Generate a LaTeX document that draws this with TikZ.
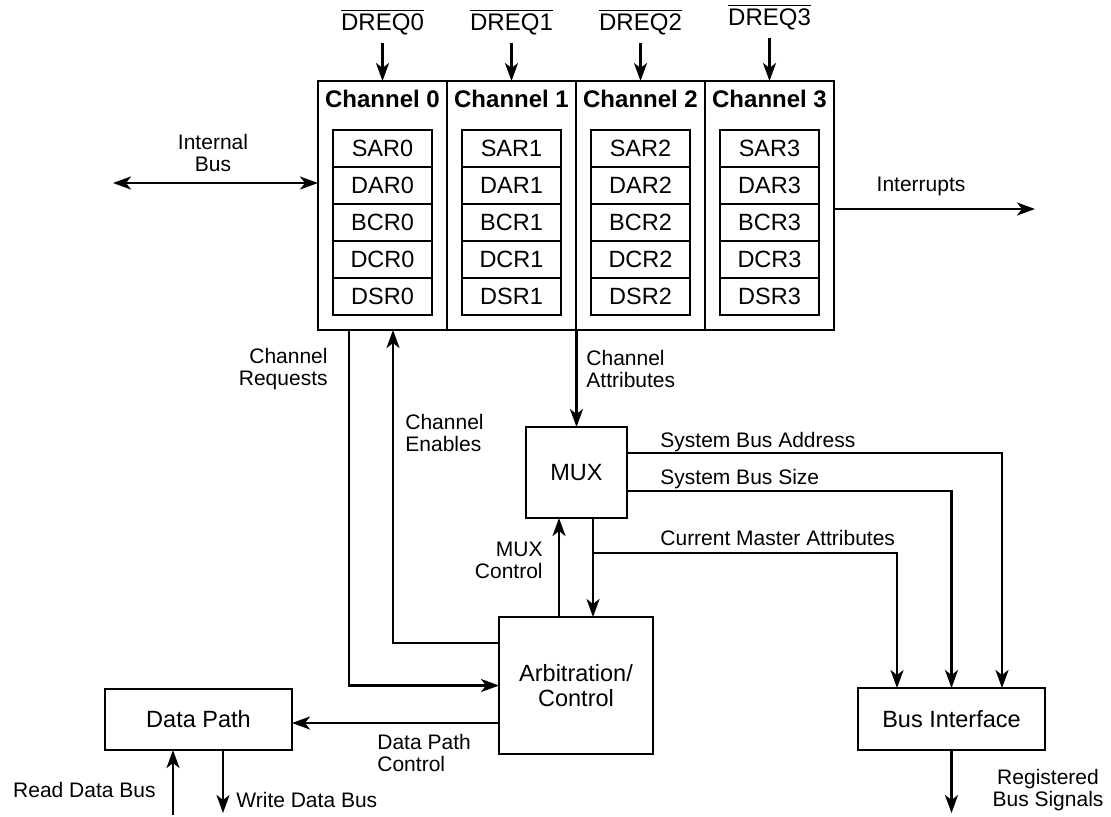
\documentclass[tikz,border=0pt]{standalone}
\usepackage{fontspec}
\setmainfont{Liberation Sans}
\usetikzlibrary{arrows.meta,positioning}
\tikzset{
    chanbox/.style={draw, line width=1.3pt, outer sep=0pt, minimum width=64.5pt, minimum height=124.5pt},
    chanhead/.style={inner sep=0pt, font=\fontsize{12}{14}\selectfont\bfseries},
    regbox/.style={draw, line width=1.3pt, outer sep=0pt, inner sep=0pt,
        minimum width=49.5pt, minimum height=18.5pt, font=\fontsize{11.75}{12.5}\selectfont},
    blockbox/.style={draw, line width=1.3pt, outer sep=0pt, inner sep=0pt, align=center,
        font=\fontsize{11.75}{12.5}\selectfont},
    sigtext/.style={inner sep=0pt, font=\fontsize{10.5}{11}\selectfont},
    sigline/.style={line width=1.3pt},
    sigarrow/.style={sigline, -{Stealth[length=9pt, width=6.5pt, inset=2.5pt]}},
    sigboth/.style={sigline, {Stealth[length=9pt, width=6.5pt, inset=2.5pt]}-{Stealth[length=9pt, width=6.5pt, inset=2.5pt]}}
}

\begin{document}
\begin{tikzpicture}[x=0.5pt, y=-0.5pt]
\useasboundingbox (0,0) rectangle (1111,816);

% DMA channels with their registers
\foreach \i in {0,...,3}{
    \node[chanbox] (ch\i) at ({382.5+129*\i},205.5) {};
    \node[chanhead] (head\i) at ({382.5+129*\i},99) {Channel \i};
    \node[regbox] (sar\i) at ({382.5+129*\i},148.5) {SAR\i};
    \node[regbox, below=0pt of sar\i] (dar\i) {DAR\i};
    \node[regbox, below=0pt of dar\i] (bcr\i) {BCR\i};
    \node[regbox, below=0pt of bcr\i] (dcr\i) {DCR\i};
    \node[regbox, below=0pt of dcr\i] (dsr\i) {DSR\i};
}
\foreach \i/\y in {0/22,1/22,2/22,3/17}{
    \node[inner sep=4pt, font=\fontsize{12}{14}\selectfont] (dreq\i) at ({382.5+129*\i},\y) {$\overline{\hbox{DREQ\i}}$};
    \draw[sigarrow] (dreq\i) -- (dreq\i |- ch\i.north);
}

% blocks
\node[blockbox, minimum width=50.5pt, minimum height=45.5pt] (mux) at (576.5,472.5) {MUX};
\node[blockbox, minimum width=77pt, minimum height=68.5pt] (arb) at (576,685.5) {Arbitration/\\Control};
\node[blockbox, minimum width=93.5pt, minimum height=30.5pt] (dpath) at (198.5,719.5) {Data Path};
\node[blockbox, minimum width=93.5pt, minimum height=31pt] (bif) at (951.5,719) {Bus Interface};

% free ends
\coordinate (ibus) at (113,183);
\coordinate (intr) at (1035,209);
\coordinate (tap) at (593,553);
\coordinate (rdb) at (173,815);
\coordinate (wdb) at (223,813);
\coordinate (rbs) at (951.5,813);

% connections
\draw[sigboth] (ibus) -- (ibus -| ch0.west);
\draw[sigarrow] (intr -| ch3.east) -- (intr);
\draw[sigarrow] ([xshift=-16.75pt]ch0.south) |- (arb.west);
\draw[sigarrow] ([yshift=21.25pt]arb.west) -| ([xshift=5.25pt]ch0.south);
\draw[sigarrow] (mux.north |- ch1.south) -- (mux.north);
\draw[sigarrow] ([xshift=-8.5pt]arb.north) -- ([xshift=-8.5pt]arb.north |- mux.south);
\draw[sigarrow] ([xshift=8.5pt]arb.north |- mux.south) -- ([xshift=8.5pt]arb.north);
\draw[sigarrow] (tap) -| ([xshift=-27.25pt]bif.north);
\draw[sigarrow] ([yshift=9.75pt]mux.east) -| ([xshift=25.25pt]bif.north);
\draw[sigarrow] ([yshift=-9.25pt]mux.east) -| (bif.north);
\draw[sigarrow] ([yshift=-18.75pt]arb.west) -- ([yshift=-18.75pt]arb.west -| dpath.east);
\draw[sigarrow] (rdb) -- (rdb |- dpath.south);
\draw[sigarrow] (wdb |- dpath.south) -- (wdb);
\draw[sigarrow] (bif.south) -- (rbs);

% signal names
\node[sigtext, align=center] (ibuslbl) at (213,153) {Internal\\Bus};
\node[sigtext] (intrlbl) at (921,186) {Interrupts};
\node[sigtext, align=right, anchor=east] (reqlbl) at (328,369) {Channel\\Requests};
\node[sigtext, align=left, anchor=west] (enlbl) at (405,433) {Channel\\Enables};
\node[sigtext, align=left, anchor=west] (attrlbl) at (586,369) {Channel\\Attributes};
\node[sigtext, align=right, anchor=east] (muxlbl) at (543,560) {MUX\\Control};
\node[sigtext, anchor=west] (addrlbl) at (660,442) {System Bus Address};
\node[sigtext, anchor=west] (sizelbl) at (660,479) {System Bus Size};
\node[sigtext, anchor=west] (cmalbl) at (660,538) {Current Master Attributes};
\node[sigtext, align=left, anchor=west] (dpclbl) at (377,753) {Data Path\\Control};
\node[sigtext, anchor=east] (rdblbl) at (156,790) {Read Data Bus};
\node[sigtext, anchor=west] (wdblbl) at (236,800) {Write Data Bus};
\node[sigtext, align=center] (rbslbl) at (1048,790) {Registered\\Bus Signals};
\end{tikzpicture}
\end{document}
